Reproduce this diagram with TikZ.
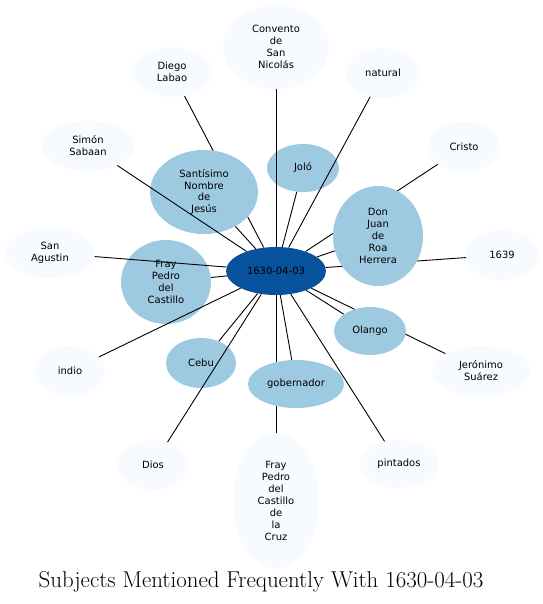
\documentclass[tikz,border=0pt]{standalone}
\usepackage{fontspec}
\newfontfamily\nodefont{DejaVu Sans}
\usetikzlibrary{shapes.geometric}
\pgfdeclarelayer{bg}
\pgfsetlayers{bg,main}
\definecolor{hubblue}{RGB}{8,81,156}
\definecolor{midblue}{RGB}{158,202,225}
\definecolor{paleblue}{RGB}{247,251,255}
\tikzset{
  base/.style={ellipse, inner sep=0pt, align=center, font=\nodefont\fontsize{10}{12}\selectfont, text=black},
  hub/.style={base, fill=hubblue},
  inner/.style={base, fill=midblue},
  outer/.style={base, fill=paleblue},
  link/.style={draw=black, line width=0.9bp},
  titletext/.style={font=\fontsize{23}{26}\selectfont, text=black},
}
\begin{document}
\begin{tikzpicture}[x=1bp,y=-1bp]
\useasboundingbox (0,0) rectangle (543,604);
% hub
\path (276,271) node[hub, minimum width=100bp, minimum height=48bp] (c) {1630-04-03};
% inner nodes
\path (204,192) node[inner, minimum width=108bp, minimum height=84bp] (sant) {Santísimo\\Nombre\\de\\Jesús};
\path (303,168) node[inner, minimum width=72bp, minimum height=48bp] (jolo) {Joló};
\path (378,236) node[inner, minimum width=90bp, minimum height=100bp] (juan) {Don\\Juan\\de\\Roa\\Herrera};
\path (166,282) node[inner, minimum width=90bp, minimum height=84bp] (fpc) {Fray\\Pedro\\del\\Castillo};
\path (201,363) node[inner, minimum width=70bp, minimum height=50bp] (cebu) {Cebu};
\path (296,384) node[inner, minimum width=96bp, minimum height=48bp] (gob) {gobernador};
\path (370,331) node[inner, minimum width=72bp, minimum height=48bp] (olango) {Olango};
% outer nodes
\path (276,47) node[outer, minimum width=106bp, minimum height=84bp] (conv) {Convento\\de\\San\\Nicolás};
\path (172,72) node[outer, minimum width=80bp, minimum height=50bp] (diego) {Diego\\Labao};
\path (383,73) node[outer, minimum width=74bp, minimum height=50bp] (natural) {natural};
\path (88,146) node[outer, minimum width=92bp, minimum height=50bp] (simon) {Simón\\Sabaan};
\path (50,253) node[outer, minimum width=90bp, minimum height=50bp] (agustin) {San\\Agustin};
\path (464,147) node[outer, minimum width=72bp, minimum height=50bp] (cristo) {Cristo};
\path (502,255) node[outer, minimum width=72bp, minimum height=50bp] (y1639) {1639};
\path (70,371) node[outer, minimum width=70bp, minimum height=50bp] (indio) {indio};
\path (481,371) node[outer, minimum width=98bp, minimum height=50bp] (jer) {Jerónimo\\Suárez};
\path (153,465) node[outer, minimum width=70bp, minimum height=50bp] (dios) {Dios};
\path (276,501) node[outer, minimum width=86bp, minimum height=136bp] (fpcruz) {Fray\\Pedro\\del\\Castillo\\de\\la\\Cruz};
\path (399,464) node[outer, minimum width=78bp, minimum height=48bp] (pint) {pintados};
% edges hidden behind the nodes
\begin{pgfonlayer}{bg}
  \foreach \t in {sant,jolo,juan,fpc,cebu,gob,olango,diego,cristo,y1639,jer,fpcruz,pint}
    \draw[link] (c) -- (\t);
\end{pgfonlayer}
% edges drawn over the nodes
\foreach \t in {conv,natural,simon,agustin,dios,indio}
  \draw[link] (c) -- (\t);
% title
\node[titletext] (title) at (261,582) {Subjects Mentioned Frequently With 1630-04-03};
\end{tikzpicture}
\end{document}
